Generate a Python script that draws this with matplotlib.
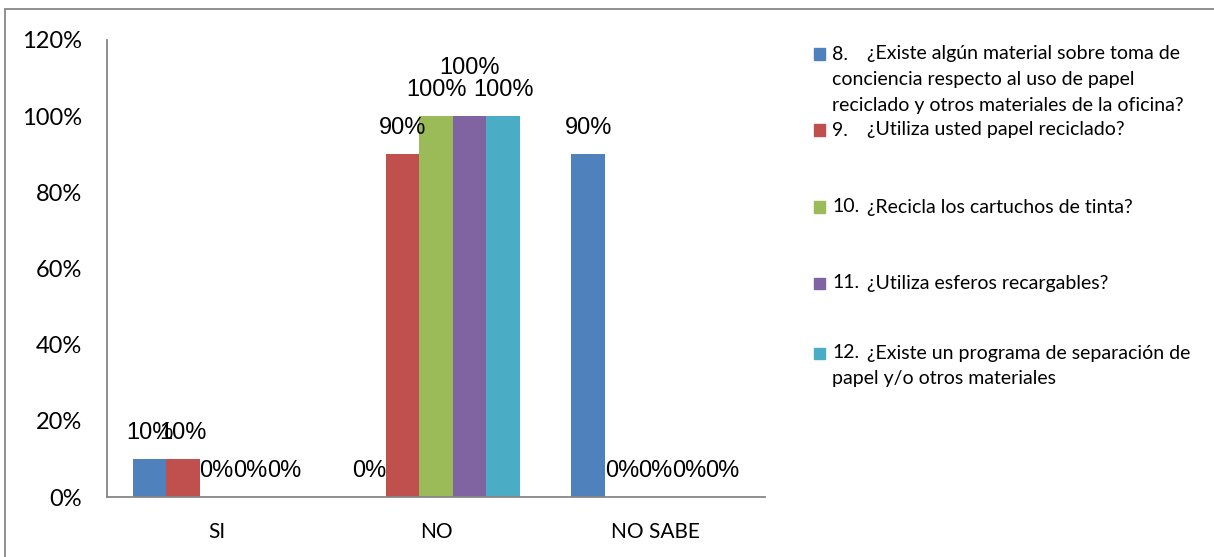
import matplotlib
matplotlib.use("Agg")
import matplotlib.pyplot as plt
from matplotlib.patches import Rectangle
import numpy as np

# Survey answers per category (share of respondents)
categories = ["SI", "NO", "NO SABE"]
series_names = [
    "8.\t¿Existe algún material sobre toma de\nconciencia respecto al uso de papel\nreciclado y otros materiales de la oficina?",
    "9.\t¿Utiliza usted papel reciclado?",
    "10.\t¿Recicla los cartuchos de tinta?",
    "11.\t¿Utiliza esferos recargables?",
    "12.\t¿Existe un programa de separación de\npapel y/o otros materiales",
]
q8 = [0.10, 0.00, 0.90]
q9 = [0.10, 0.90, 0.00]
q10 = [0.00, 1.00, 0.00]
q11 = [0.00, 1.00, 0.00]
q12 = [0.00, 1.00, 0.00]
series_values = [q8, q9, q10, q11, q12]
y_ticks = [0.0, 0.2, 0.4, 0.6, 0.8, 1.0, 1.2]

colors = ["#4F81BD", "#C0504D", "#9BBB59", "#8064A2", "#4BACC6"]
W, H = 1214, 557
DPI = 100

fig = plt.figure(figsize=(W / DPI, H / DPI), dpi=DPI)
fig.patch.set_facecolor("white")

# plot area in pixel terms
left_px, right_px, top_px, bottom_px = 107, 765, 40, 497
ax = fig.add_axes([left_px / W, 1 - bottom_px / H,
                   (right_px - left_px) / W, (bottom_px - top_px) / H])

n = len(series_values)
bar_w = 0.153
x = np.arange(len(categories))
label_font = dict(family="Liberation Sans", fontsize=17, color="black")
# labels lifted to avoid collisions with neighbours (series index, category index) -> px
lift = {(3, 1): 22}
for i, (vals, col) in enumerate(zip(series_values, colors)):
    xs = x + (i - (n - 1) / 2) * bar_w
    ax.bar(xs, vals, width=bar_w, color=col, zorder=2)
    for j, (xi, v) in enumerate(zip(xs, vals)):
        ax.annotate(f"{v*100:.0f}%", (xi, v), xytext=(0, 26 + lift.get((i, j), 0)),
                    textcoords="offset pixels", ha="center", va="center",
                    annotation_clip=False, **label_font)

ax.set_xlim(-0.5, len(categories) - 0.5)
ax.set_ylim(0, 1.2)
ax.set_yticks(y_ticks)
ax.set_yticklabels([f"{t*100:.0f}%" for t in y_ticks], family="Lato", fontsize=17)
ax.set_xticks(x)
ax.set_xticklabels(categories, family="Lato", fontsize=15)
ax.tick_params(axis="y", length=0, pad=25 * 72 / DPI)
ax.tick_params(axis="x", length=0, pad=25 * 72 / DPI)
for s in ["top", "right"]:
    ax.spines[s].set_visible(False)
for s in ["left", "bottom"]:
    ax.spines[s].set_color("#868686")
    ax.spines[s].set_linewidth(1.3)

# legend drawn as text blocks with colour swatches
legend_font = dict(family="Lato", fontsize=14, color="black")
line_h = 25.5
entry_y = [54, 130, 207, 283, 353]
sq = 11
for name, col, y0 in zip(series_names, colors, entry_y):
    num, rest = name.split("\t")
    fig.add_artist(Rectangle((814 / W, 1 - (y0 + sq / 2) / H), sq / W, sq / H,
                             transform=fig.transFigure, color=col))
    lines = rest.split("\n")
    fig.text(832 / W, 1 - y0 / H, num, va="center", ha="left", **legend_font)
    fig.text(867 / W, 1 - y0 / H, lines[0], va="center", ha="left", **legend_font)
    for k, ln in enumerate(lines[1:], start=1):
        fig.text(832 / W, 1 - (y0 + k * line_h) / H, ln, va="center", ha="left", **legend_font)

# chart frame
fig.add_artist(Rectangle((5 / W, -0.1), 1.2, 1.1 - 9 / H, transform=fig.transFigure,
                         fill=False, edgecolor="#878787", linewidth=1.3, clip_on=False))

fig.savefig("out.png", dpi=DPI)
